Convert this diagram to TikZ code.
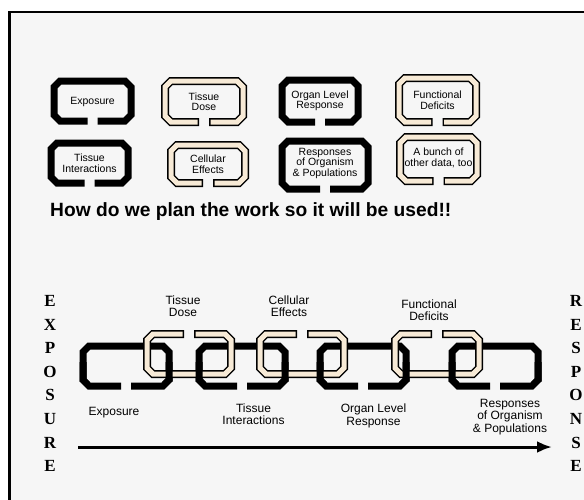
\documentclass[tikz,border=0pt]{standalone}
\usepackage{fontspec}
\newfontfamily\sansfont{Liberation Sans}
\newfontfamily\serifbold{Liberation Serif}
\usetikzlibrary{arrows.meta, positioning, calc}

\definecolor{linkbeige}{RGB}{247,234,214}
\definecolor{paper}{RGB}{246,246,246}

% chain link outline, gap at the bottom (flip with yscale=-1)
\newcommand{\linkpath}[2]{(5,#2) -- (#1-6,#2) -- (#1,#2-6) -- (#1,-#2+6) -- (#1-6,-#2) -- (-#1+6,-#2) -- (-#1,-#2+6) -- (-#1,#2-6) -- (-#1+6,#2) -- (-5,#2)}
\newcommand{\blacklink}[4]{\draw[linkblack, shift={(#1)}, yscale=#4] \linkpath{#2}{#3};}
\newcommand{\beigelink}[4]{%
  \draw[linkedge, shift={(#1)}, yscale=#4] \linkpath{#2}{#3};
  \draw[linkfill, shift={(#1)}, yscale=#4] \linkpath{#2}{#3};}

\begin{document}
\begin{tikzpicture}[x=1pt, y=-1pt, >=Latex]
  % Styles
  \tikzset{
    boxtext/.style={font=\sansfont\fontsize{10.5}{10.5}\selectfont, align=center, inner sep=0pt},
    chaintext/.style={font=\sansfont\fontsize{12}{12.5}\selectfont, align=center, inner sep=0pt},
    headline/.style={font=\sansfont\bfseries\fontsize{19.2}{22}\selectfont, inner sep=0pt},
    vletter/.style={font=\serifbold\bfseries\fontsize{17}{17}\selectfont, inner sep=0pt},
    linkblack/.style={draw=black, line width=7pt, line join=miter},
    linkedge/.style={draw=black, line width=8pt, line join=miter},
    linkfill/.style={draw=linkbeige, line width=5pt, line join=miter, shorten <=1.5pt, shorten >=1.5pt},
    timeline/.style={-{Latex[length=15pt,width=12pt]}, line width=3pt}
  }
  \useasboundingbox (0,0) rectangle (584,499);
  \clip (0,0) rectangle (584,499);

  % Frame
  \fill[paper] (9.5,12) rectangle (600,520);
  \draw[line width=2.5pt] (9.5,520) -- (9.5,12) -- (600,12);

  % Boxes, top rows
  \node[boxtext] (expo)    at (92.5,102)  {Exposure};
  \node[boxtext] (tdose)   at (204,101.5) {Tissue\\Dose};
  \node[boxtext] (organ)   at (320,101)   {Organ Level\\Response};
  \node[boxtext] (funcdef) at (437.5,100) {Functional\\Deficits};
  \node[boxtext] (tint)    at (89.5,163)  {Tissue\\Interactions};
  \node[boxtext] (cell)    at (208,164)   {Cellular\\Effects};
  \node[boxtext] (respop)  at (325,163)   {Responses\\of Organism\\\& Populations};
  \node[boxtext] (bunch)   at (438.5,158) {A bunch of\\other data, too};

  \blacklink{92.5,101}{38.5}{20}{1}
  \beigelink{204,101.5}{39}{20.5}{1}
  \blacklink{320,101}{38}{21}{1}
  \beigelink{437.5,100}{38.5}{22}{1}
  \blacklink{89.5,163}{38.5}{20}{1}
  \beigelink{208,164}{37}{19}{1}
  \blacklink{325,165}{43}{24}{1}
  \beigelink{438.5,159}{38.5}{22}{1}

  \node[headline, anchor=base west] (question) at (50,216) {How do we plan the work so it will be used!!};

  % Chain
  \foreach \cx in {126,242,363,495}{
    \blacklink{\cx,366}{43}{20}{1}
  }
  \foreach \cx in {189,302,437}{
    \beigelink{\cx,354}{42}{20}{-1}
  }
  \begin{scope}
    \clip (60,362) rectangle (560,381);
    \foreach \cx in {126,242,363,495}{
      \blacklink{\cx,366}{43}{20}{1}
    }
  \end{scope}

  % Chain labels
  \node[chaintext] (lexpo)   at (114,413)   {Exposure};
  \node[chaintext] (ltdose)  at (183,306)   {Tissue\\Dose};
  \node[chaintext] (ltint)   at (253.5,414) {Tissue\\Interactions};
  \node[chaintext] (lcell)   at (289,306)   {Cellular\\Effects};
  \node[chaintext] (lorgan)  at (373.5,416) {Organ Level\\Response};
  \node[chaintext] (lfunc)   at (429,310)   {Functional\\Deficits};
  \node[chaintext] (lrespop) at (510,417)   {Responses\\of Organism\\\& Populations};

  % Side words
  \foreach \ch [count=\i from 0] in {E,X,P,O,S,U,R,E}
    \node[vletter] (expw\i) at (50,301+23.6*\i) {\ch};
  \foreach \ch [count=\i from 0] in {R,E,S,P,O,N,S,E}
    \node[vletter] (resw\i) at (576,301+23.6*\i) {\ch};

  % Arrow
  \coordinate (tstart) at (78,447);
  \coordinate (tend) at (552,447);
  \draw[timeline] (tstart) -- (tend);
\end{tikzpicture}
\end{document}
